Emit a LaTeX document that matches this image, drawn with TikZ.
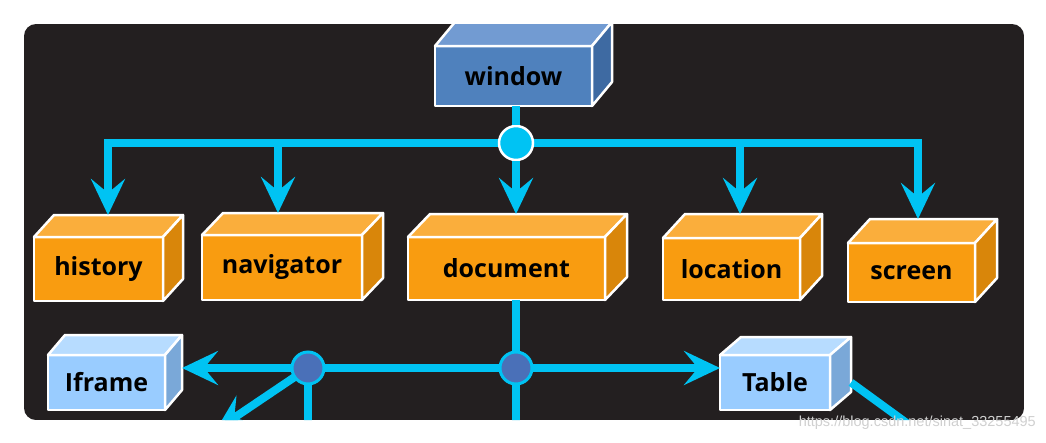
\documentclass[tikz,border=0pt]{standalone}
\usepackage{fontspec}
\setmainfont{Open Sans}
\newfontfamily\wmfont{Liberation Sans}
\usetikzlibrary{arrows.meta,calc}
\definecolor{bgdark}{HTML}{231F20}
\definecolor{cyanl}{HTML}{00C3F3}
\definecolor{orF}{HTML}{F99C10}
\definecolor{orT}{HTML}{FAAE3C}
\definecolor{orS}{HTML}{D9860A}
\definecolor{blF}{HTML}{4F81BD}
\definecolor{blT}{HTML}{729BD2}
\definecolor{blS}{HTML}{3E6AA2}
\definecolor{lbF}{HTML}{99CCFF}
\definecolor{lbT}{HTML}{B7DCFF}
\definecolor{lbS}{HTML}{7AA8D8}
\definecolor{jblue}{HTML}{4A70B8}
\definecolor{wmgray}{HTML}{D0D0D0}
\tikzset{
  face/.style={draw=white, line width=2.5pt, line join=round},
  front/.style={face, inner sep=0pt, outer sep=0pt, font=\bfseries\fontsize{25}{27}\selectfont, text=black},
  bus/.style={draw=cyanl, line width=8pt},
  arr/.style={bus, -{Stealth[length=36pt,width=34pt,inset=14pt]}},
  jc/.style={circle, minimum size=34pt, inner sep=0pt, fill=cyanl, draw=white, line width=2.5pt},
  jb/.style={circle, minimum size=32pt, inner sep=0pt, fill=jblue, draw=cyanl, line width=3pt},
}
% #1 name, #2 x1, #3 y1, #4 x2, #5 y2, #6 colour prefix, #7 text, #8 depth x, #9 depth y
\newcommand\cubebox[9]{%
  \node[front, fill=#6F, minimum width={(#4-#2)*1pt}, minimum height={(#5-#3)*1pt}] (#1) at ({(#2+#4)/2},{(#3+#5)/2}) {#7};
  \draw[face, fill=#6T] (#1.north west) -- ++(#8pt,#9pt) -- ++({(#4-#2)*1pt},0pt) -- (#1.north east) -- cycle;
  \draw[face, fill=#6S] (#1.north east) -- ++(#8pt,#9pt) -- ++(0pt,{-(#5-#3)*1pt}) -- (#1.south east) -- cycle;
  \coordinate (#1-top) at ($(#1.north)+(#8pt,#9pt)$);
  \coordinate (#1-side) at ($(#1.east)+(#8pt,0pt)$);
}
\begin{document}
\begin{tikzpicture}[x=1pt,y=-1pt]
\useasboundingbox (0,0) rectangle (1046,442);
\fill[white] (0,0) rectangle (1046,442);
\begin{scope}
  \clip[rounded corners=12pt] (24,24) rectangle (1024,420);
  \fill[bgdark] (24,24) rectangle (1024,420);
  % boxes
  \cubebox{window}{435}{46}{592}{106}{bl}{window}{20}{24}
  \cubebox{history}{34}{237}{163}{301}{or}{history}{20}{22}
  \cubebox{navigator}{202}{235}{362}{300}{or}{navigator}{21}{22}
  \cubebox{document}{408}{237}{605}{300}{or}{document}{22}{23}
  \cubebox{location}{663}{238}{800}{300}{or}{location}{22}{24}
  \cubebox{screen}{848}{243}{975}{302}{or}{screen}{22}{24}
  \cubebox{iframe}{48}{355}{165}{410}{lb}{Iframe}{17}{20}
  \cubebox{table}{720}{355}{830}{410}{lb}{Table}{21}{18}
  % bus coordinates
  \coordinate (b1) at (108,143);
  \coordinate (b2) at (278,143);
  \coordinate (b4) at (740,143);
  \coordinate (b5) at (918,143);
  \coordinate (dEnd) at (516,450);
  \coordinate (jEnd) at (308,450);
  \coordinate (diagTip) at (216,430);
  \coordinate (tabEnd) at (930,440);
  % connectors row 1
  \draw[bus, line cap=rect] (b1) -- (b5);
  \draw[arr] (b1) -- (b1 |- history-top);
  \draw[arr] (b2) -- (b2 |- navigator-top);
  \draw[arr] (b4) -- (b4 |- location-top);
  \draw[arr] (b5) -- (b5 |- screen-top);
  \node[jc] (j1) at (516,143) {};
  \draw[bus] (j1 |- window.south) -- (j1.north);
  \draw[arr] (j1.south) -- (j1 |- document-top);
  % connectors row 3
  \coordinate (j2c) at (308,368);
  \coordinate (j3c) at (516,368);
  \draw[bus] (j3c |- document.south) -- (dEnd);
  \draw[bus] (j2c) -- (jEnd);
  \draw[bus] (j2c) -- (j3c);
  \draw[arr] (j2c) -- (j2c -| iframe-side);
  \draw[arr] (j3c) -- (j3c -| table.west);
  \draw[arr] (j2c) -- (diagTip);
  \draw[bus] (table-side) -- (tabEnd);
  \node[jb] (j2) at (j2c) {};
  \node[jb] (j3) at (j3c) {};
\end{scope}
\node[anchor=east, text=wmgray, font=\wmfont\fontsize{14.5}{16}\selectfont, inner sep=0pt] (wm) at (1036,423) {https://blog.csdn.net/sinat\_33255495};
\end{tikzpicture}
\end{document}
